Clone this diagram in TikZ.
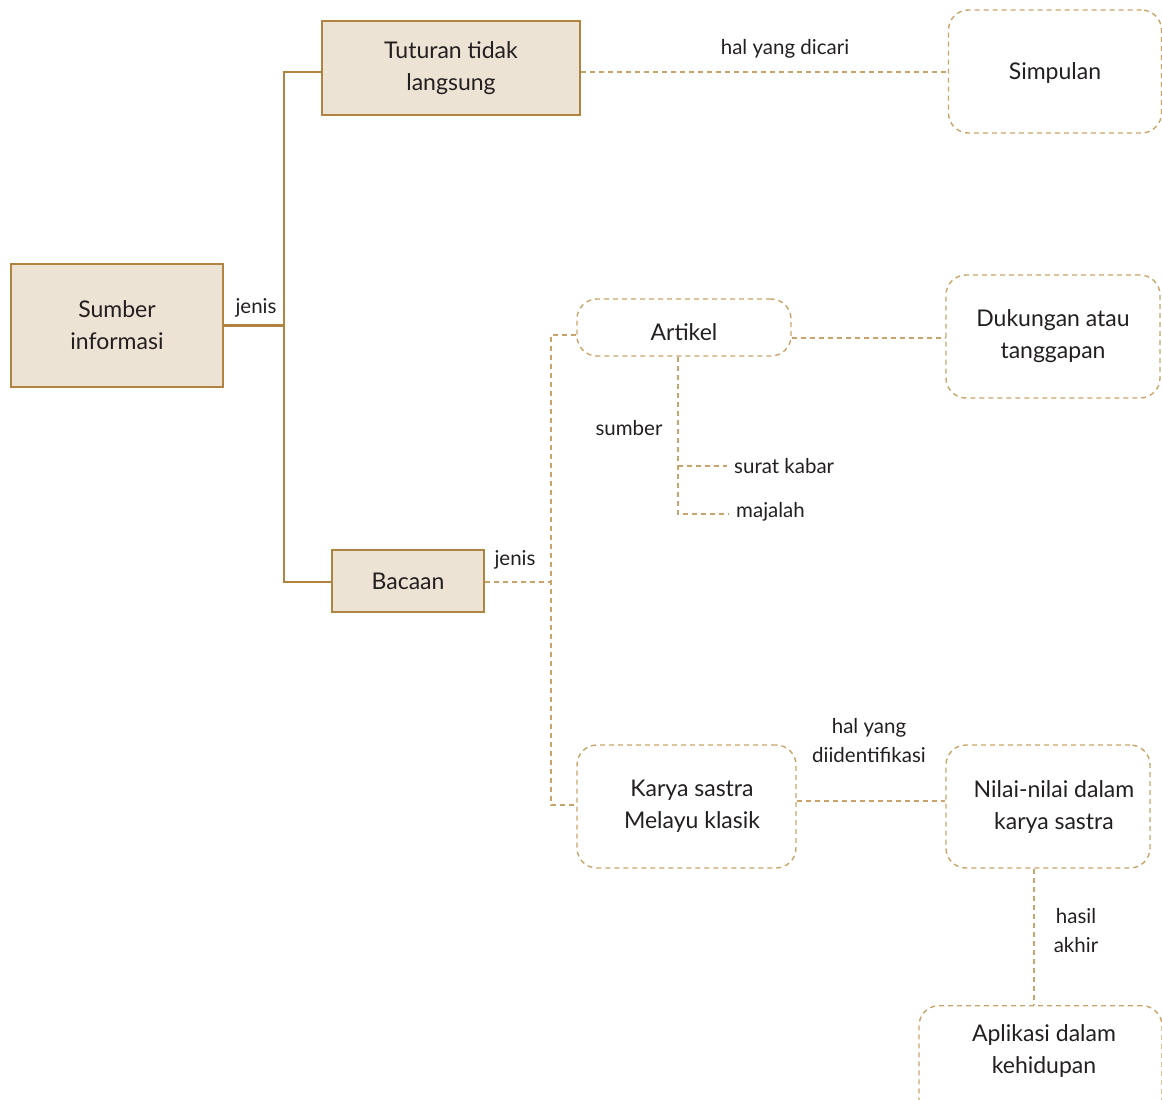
\documentclass[tikz,border=0pt]{standalone}
\usepackage{fontspec}
\setmainfont{Lato}
\definecolor{brn}{HTML}{B08340}
\definecolor{fillc}{HTML}{EDE3D5}
\definecolor{dsh}{HTML}{C9A46A}
\definecolor{ink}{HTML}{231F20}
\begin{document}
\begin{tikzpicture}[x=1pt,y=-1pt,
  every node/.style={text=ink, font=\fontsize{23}{32}\selectfont, align=center, inner sep=0pt},
  solidbox/.style={draw=brn, fill=fillc, line width=2.4pt},
  softbox/.style={draw=dsh, line width=1.4pt, dash pattern=on 5pt off 4pt, rounded corners=20pt},
  conn/.style={draw=brn, line width=2.4pt},
  dconn/.style={draw=dsh, line width=1.4pt, dash pattern=on 5pt off 4pt},
  lbl/.style={font=\fontsize{20.5}{29}\selectfont}]
\useasboundingbox (0,0) rectangle (1162,1100);
\clip (0,0) rectangle (1162,1100);
% solid boxes
\node[solidbox, minimum width=212, minimum height=123] (sumber) at (117,325.5) {Sumber\\informasi};
\node[solidbox, minimum width=258, minimum height=94] (tut) at (451,68) {Tuturan tidak\\langsung};
\node[solidbox, minimum width=152, minimum height=62] (bac) at (408,581) {Bacaan};
% dashed rounded boxes
\node[softbox, minimum width=213, minimum height=123] (simp) at (1055,71.5) {\raisebox{-2pt}[\height][\depth]{Simpulan}};
\node[softbox, minimum width=214, minimum height=57] (art) at (684,327.5) {\raisebox{-5pt}[\height][\depth]{Artikel}};
\node[softbox, minimum width=214, minimum height=123] (duk) at (1053,336.5) {Dukungan atau\\tanggapan};
\node[softbox, minimum width=219, minimum height=123] (kar) at (686.5,806.5) {\hspace*{11pt}Karya sastra\\\hspace*{11pt}Melayu klasik};
\node[softbox, minimum width=204, minimum height=123] (nil) at (1048,806.5) {\hspace*{12pt}Nilai-nilai dalam\\\hspace*{12pt}karya sastra};
\node[softbox, minimum width=243, minimum height=130, anchor=north] (apl) at (1040.5,1005) {};
\node (apltxt) at (1044,1051) {Aplikasi dalam\\kehidupan};
% solid connectors
\coordinate (j1) at (284,325.5);
\draw[conn] (sumber.east) -- (j1);
\draw[conn] (tut.west |- 0,72) -| (j1) |- (bac.west |- 0,582);
\node[lbl] (lj1) at (256,308) {jenis};
% dashed connectors
\draw[dconn] (tut.east |- 0,72) -- (simp.west |- 0,72);
\node[lbl] (lhal) at (785,49) {hal yang dicari};
\coordinate (j2) at (551,582);
\draw[dconn] (bac.east |- 0,582) -- (j2);
\draw[dconn] (art.west |- 0,335) -| (j2) |- (kar.west |- 0,805);
\node[lbl] (lj2) at (515,560) {jenis};
\draw[dconn] (art.east |- 0,338) -- (duk.west |- 0,338);
% sumber branch
\node[lbl, anchor=west] (sk) at (734,466) {surat kabar};
\node[lbl, anchor=west] (mj) at (736,512) {majalah};
\coordinate (a1) at (678,466);
\draw[dconn] (art.south -| a1) -- (678,514) -- ([xshift=-8pt]mj.west |- 0,514);
\draw[dconn] (a1) -- ([xshift=-7pt]sk.west);
\node[lbl] (lsum) at (629,428) {sumber};
% karya -> nilai
\draw[dconn] (kar.east |- 0,801) -- (nil.west |- 0,801);
\node[lbl] (lid) at (869,741) {hal yang\\diidentifikasi};
% nilai -> aplikasi
\draw[dconn] (nil.south -| 1034,0) -- (apl.north -| 1034,0);
\node[lbl] (lhas) at (1076,931) {hasil\\akhir};
\end{tikzpicture}
\end{document}
